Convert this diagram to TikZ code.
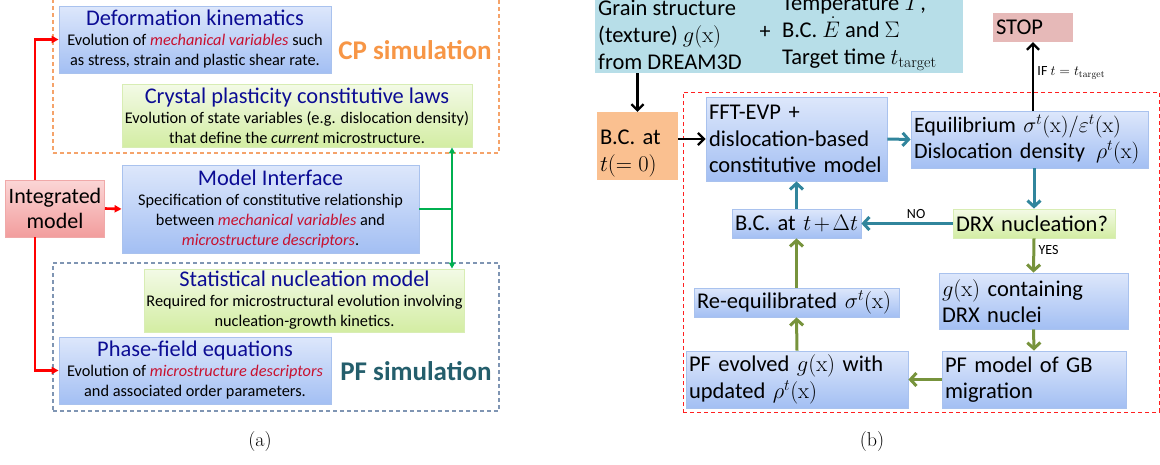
\RequirePackage{fix-cm}
\documentclass[tikz,border=0pt]{standalone}
\usepackage{fontspec}
\setsansfont{Carlito}
\usepackage{xcolor}
\usepackage{tikz}
\usetikzlibrary{arrows.meta, positioning, calc}
\definecolor{bluetop}{HTML}{DDE7FB}
\definecolor{bluebot}{HTML}{A3BFF3}
\definecolor{bluedge}{HTML}{A9C2EE}
\definecolor{greentop}{HTML}{F3FAE6}
\definecolor{greenbot}{HTML}{D3EDA3}
\definecolor{greenedge}{HTML}{D8EDB4}
\definecolor{pinktop}{HTML}{FBD6D6}
\definecolor{pinkbot}{HTML}{F29D9D}
\definecolor{pinkedge}{HTML}{F0A9A9}
\definecolor{navy}{HTML}{0C0C94}
\definecolor{keyred}{HTML}{C8102E}
\definecolor{cporange}{HTML}{F79646}
\definecolor{pfteal}{HTML}{245E6C}
\definecolor{frameorange}{HTML}{F5A36A}
\definecolor{frameblue}{HTML}{7F95B3}
\definecolor{inputblue}{HTML}{B7DEE8}
\definecolor{bcorange}{HTML}{FAC090}
\definecolor{stoppink}{HTML}{E6B9B8}
\definecolor{arrteal}{HTML}{31859C}
\definecolor{arrolive}{HTML}{77933C}
\definecolor{linkgreen}{HTML}{00B050}
\definecolor{loopred}{HTML}{FF2020}
\newcommand{\setfs}[2]{\fontsize{#1}{#2}\selectfont}
\newcommand{\keyvar}[1]{\textcolor{keyred}{\textit{#1}}}
\newcommand{\boxtitle}[1]{{\setfs{22.4}{24}\color{navy}#1}}

\begin{document}
\begin{tikzpicture}[x=1pt, y=-1pt, font=\sffamily,
  bluebox/.style={rectangle, draw=bluedge, line width=0.8pt,
                  top color=bluetop, bottom color=bluebot, inner sep=2pt},
  greenbox/.style={rectangle, draw=greenedge, line width=0.8pt,
                   top color=greentop, bottom color=greenbot, inner sep=2pt},
  lbody/.style={align=center, font=\sffamily\setfs{16.3}{20}, inner ysep=1pt},
  rtext/.style={align=left, font=\sffamily\setfs{22.5}{26.5},
                inner xsep=3pt, inner ysep=0pt},
  frame/.style={rectangle, line width=1.1pt, minimum width=446pt,
                dash pattern=on 4pt off 3pt},
  tealflow/.style={-{Straight Barb[length=6pt,width=13pt]}, line width=3pt,
                   draw=arrteal},
  oliveflow/.style={-{Straight Barb[length=6pt,width=13pt]}, line width=3pt,
                    draw=arrolive},
  blackflow/.style={-{Straight Barb[length=6pt,width=12pt]}, line width=2.3pt},
  redflow/.style={-{Triangle[length=7pt,width=7pt]}, line width=2.6pt, draw=red},
  greenflow/.style={-{Triangle[length=6pt,width=6pt]}, line width=1.8pt,
                    draw=linkgreen},
  tag/.style={font=\sffamily\setfs{14}{16}}
]
\useasboundingbox (0,0) rectangle (1160,464);

% (a) integrated model
\node[frame, draw=frameorange, minimum height=156pt] (cpframe) at (276,75) {};
\node[frame, draw=frameblue, minimum height=148pt] (pfframe) at (276,337) {};

\node[bluebox, lbody, minimum width=272pt, minimum height=67pt] (kin) at (195,39.5) {
  \boxtitle{Deformation kinematics}\\
  Evolution of \keyvar{mechanical variables} such\\
  as stress, strain and plastic shear rate.
};
\node[font=\sffamily\bfseries\setfs{27}{30}, text=cporange] (cptag) at (415,50) {CP simulation};

\node[greenbox, lbody, minimum width=350pt, minimum height=63pt] (cpl) at (297,115.5) {
  \boxtitle{Crystal plasticity constitutive laws}\\
  Evolution of state variables (e.g. dislocation density)\\
  that define the \textit{current} microstructure.
};

\node[rectangle, draw=pinkedge, line width=0.8pt, top color=pinktop, bottom color=pinkbot,
      minimum width=98pt, minimum height=57pt, align=center,
      font=\sffamily\setfs{22}{25}] (intm) at (55,208.5) {Integrated\\model};

\node[bluebox, lbody, minimum width=297pt, minimum height=88pt] (mif) at (270.5,209) {
  \boxtitle{Model Interface}\\
  Specification of constitutive relationship\\
  between \keyvar{mechanical variables} and\\
  \keyvar{microstructure descriptors}.
};

\node[greenbox, lbody, minimum width=317pt, minimum height=63pt] (snm) at (304.5,300.5) {
  \boxtitle{Statistical nucleation model}\\
  Required for microstructural evolution involving\\
  nucleation-growth kinetics.
};

\node[bluebox, lbody, minimum width=272pt, minimum height=67pt] (pfe) at (195,370.5) {
  \boxtitle{Phase-field equations}\\
  Evolution of \keyvar{microstructure descriptors}\\
  and associated order parameters.
};
\node[font=\sffamily\bfseries\setfs{27}{30}, text=pfteal] (pftag) at (416,371) {PF simulation};

\coordinate (bus) at (35,209);
\coordinate (gjoint) at (452,209);
\draw[redflow] (intm.east) -- (mif.west);
\draw[redflow] (intm.north -| bus) |- (kin.west);
\draw[redflow] (intm.south -| bus) |- (pfe.west);
\draw[linkgreen, line width=1.8pt] (mif.east) -- (gjoint);
\draw[greenflow] (gjoint) -- (gjoint |- cpl.south);
\draw[greenflow] (gjoint) -- (gjoint |- snm.north);

\node[font=\rmfamily\setfs{20}{22}] (capa) at (260,442) {(a)};

% (b) DRX loop
\node[rectangle, draw=loopred, line width=1pt, dash pattern=on 4pt off 3pt,
      minimum width=476pt, minimum height=320pt] (loop) at (921,252) {};

\node[rectangle, fill=inputblue, minimum width=368pt, minimum height=90pt] (inp) at (779,28) {};
\node[anchor=north west, align=left, inner sep=0pt,
      font=\sffamily\setfs{22.5}{27}] (grain) at (598,0) {
  Grain structure\\(texture) $g(\mathrm{x})$\\from DREAM3D};
\node[font=\sffamily\setfs{22}{27}] (plus) at (765,32) {+};
\node[anchor=north west, align=left, inner sep=0pt,
      font=\sffamily\setfs{22.5}{27}] (loads) at (782,-5) {
  Temperature $T$,\\B.C. $\dot{E}$ and $\Sigma$\\Target time $t_{\mathrm{target}}$};

\node[rectangle, fill=bcorange, rtext, text width=75pt, minimum height=68pt,
      text depth=17pt] (bc0) at (637.5,146) {B.C. at\\$t(=0)$};
\node[bluebox, rtext, text width=175pt, minimum height=84pt] (fft) at (796.5,139) {
  FFT-EVP +\\dislocation-based\\constitutive model};
\node[bluebox, rtext, font=\sffamily\setfs{22}{26.5}, text width=231pt,
      minimum height=57pt] (equ) at (1029.5,139.5) {
  \mbox{Equilibrium $\sigma^t(\mathrm{x})/\varepsilon^t(\mathrm{x})$}\\
  \mbox{Dislocation density\, $\rho^t(\mathrm{x})$}};
\node[rectangle, fill=stoppink, rtext, text width=74pt, minimum height=29pt] (stop) at (1033,27.5) {STOP};
\node[greenbox, rtext, inner ysep=0pt, text width=156pt, minimum height=29pt] (drx) at (1034,223.5) {DRX nucleation?};
\node[bluebox, rtext, inner ysep=0pt, text width=123pt, minimum height=29pt] (bcdt) at (796.5,223.5) {B.C. at $t+\Delta t$};
\node[bluebox, rtext, text width=183pt, minimum height=56pt] (gx) at (1033.5,301) {
  $g(\mathrm{x})$ containing\\DRX nuclei};
\node[bluebox, rtext, text width=178pt, minimum height=57pt] (pfm) at (1034,379.5) {
  PF model of GB\\migration};
\node[bluebox, rtext, text width=216pt, minimum height=57pt] (pfv) at (797,379.5) {
  PF evolved $g(\mathrm{x})$ with\\updated $\rho^t(\mathrm{x})$};
\node[bluebox, rtext, inner ysep=0pt, text width=199pt, minimum height=29pt] (reeq) at (796.5,302.5) {
  Re-equilibrated $\sigma^t(\mathrm{x})$};

\draw[blackflow] (bc0.north |- inp.south) -- (bc0.north);
\draw[blackflow] (bc0.east |- fft.west) -- (fft.west);
\draw[tealflow] (fft.east) -- (equ.west);
\draw[blackflow] (stop.south |- equ.north) --
      node[pos=0.55, right, tag]{IF $t=t_{\mathrm{target}}$} (stop.south);
\draw[tealflow] (drx.north |- equ.south) -- (drx.north);
\draw[tealflow] (drx.west) -- node[pos=0.4, above, tag]{NO} (bcdt.east);
\draw[tealflow] (bcdt.north) -- (fft.south);
\draw[oliveflow] (drx.south) -- node[pos=0.35, right, tag]{YES} (gx.north);
\draw[oliveflow] (gx.south) -- (pfm.north);
\draw[oliveflow] (pfm.west) -- (pfv.east);
\draw[oliveflow] (pfv.north) -- (reeq.south);
\draw[oliveflow] (reeq.north) -- (bcdt.south);

\node[font=\rmfamily\setfs{20}{22}] (capb) at (872,442) {(b)};

\end{tikzpicture}
\end{document}
